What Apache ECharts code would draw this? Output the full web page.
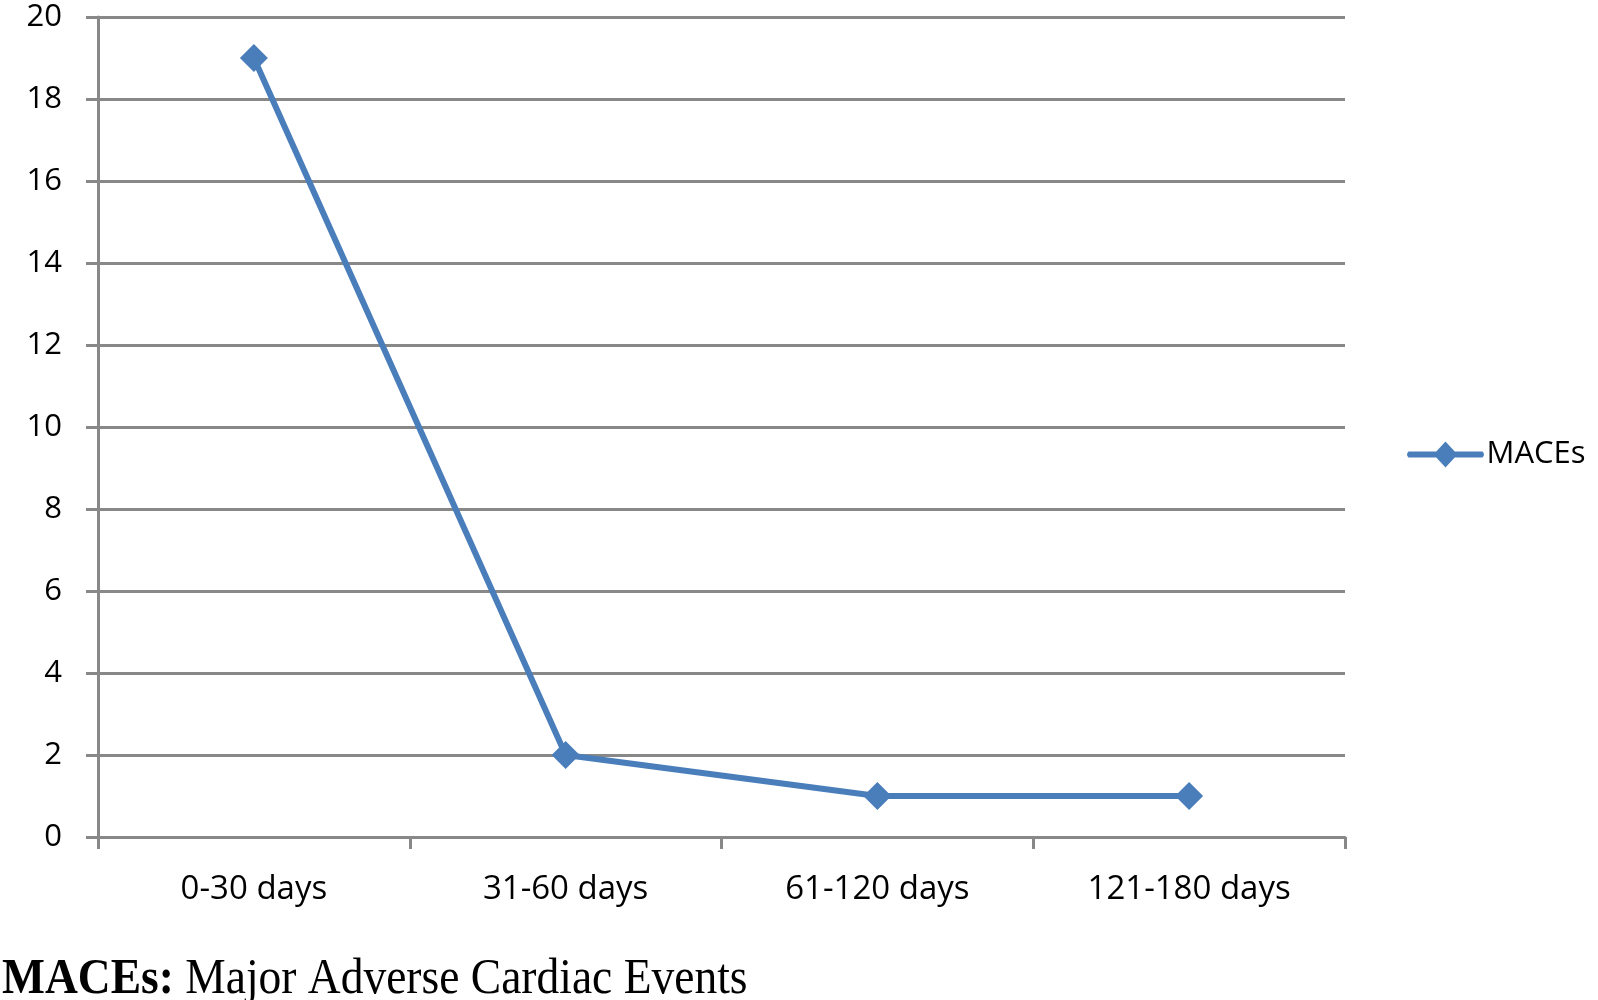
<!DOCTYPE html>
<html>
<head>
<meta charset="utf-8">
<script src="https://cdn.jsdelivr.net/npm/echarts@6/dist/echarts.min.js"></script>
<style>
html,body{margin:0;padding:0;background:#fff;}
#chart{width:1598px;height:1000px;}
</style>
</head>
<body>
<div id="chart"></div>
<script>
const categories = ['0-30 days', '31-60 days', '61-120 days', '121-180 days'];
const maceValues = [19, 2, 1, 1];
const seriesName = 'MACEs';
const footnoteBold = 'MACEs:';
const footnoteText = ' Major Adverse Cardiac Events';

const chart = echarts.init(document.getElementById('chart'));
const blue = '#4a7ebb';
const gray = '#888888';
chart.setOption({
  animation: false,
  backgroundColor: '#ffffff',
  grid: {left: 98, right: 253, top: 17, bottom: 163},
  legend: {
    left: 1402, top: 434,
    itemWidth: 80, itemHeight: 26, itemGap: 0,
    icon: 'path://M3,10 L77,10 Q80,13 77,16 L3,16 Q0,13 3,10 Z M40,0 L52,13 L40,26 L28,13 Z',
    itemStyle: {color: blue},
    textStyle: {fontFamily: 'Open Sans', fontSize: 31, color: '#000', padding: [0,0,0,-4]},
    data: [seriesName]
  },
  xAxis: {
    type: 'category',
    data: categories,
    boundaryGap: true,
    axisLine: {lineStyle: {color: gray, width: 3}},
    axisTick: {show: true, length: 12, lineStyle: {color: gray, width: 3}, alignWithLabel: false},
    axisLabel: {fontFamily: 'Open Sans', fontSize: 33, color: '#000', margin: 36}
  },
  yAxis: {
    type: 'value',
    min: 0, max: 20, interval: 2,
    axisLine: {show: true, lineStyle: {color: gray, width: 3}},
    axisTick: {show: true, length: 12, lineStyle: {color: gray, width: 3}},
    splitLine: {lineStyle: {color: gray, width: 3}},
    axisLabel: {fontFamily: 'Open Sans', fontSize: 31, color: '#000', margin: 36}
  },
  series: [{
    name: seriesName,
    type: 'line',
    data: maceValues,
    symbol: 'diamond',
    symbolSize: 28,
    lineStyle: {color: blue, width: 6},
    itemStyle: {color: blue}
  }],
  graphic: [{
    type: 'text',
    x: 2,
    y: 954,
    scaleY: 1.12,
    style: {
      text: '{b|' + footnoteBold + '}{r|' + footnoteText + '}',
      verticalAlign: 'top',
      rich: {
        b: {fontFamily: 'Liberation Serif', fontWeight: 'bold', fontSize: 45.5, fill: '#000'},
        r: {fontFamily: 'Liberation Serif', fontSize: 45.5, fill: '#000'}
      }
    }
  }]
});
</script>
</body>
</html>
